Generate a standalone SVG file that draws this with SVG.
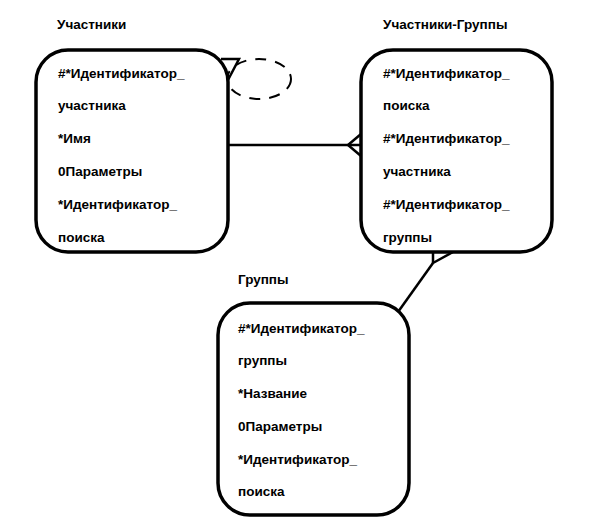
<svg xmlns="http://www.w3.org/2000/svg" width="589" height="529" viewBox="0 0 589 529">
<style>
text{font-family:"Liberation Sans",Arial,sans-serif;font-size:13.5px;font-weight:bold;fill:#000}
.box{fill:#fff;stroke:#000;stroke-width:3.5}
.ln{fill:none;stroke:#000;stroke-width:2.5}
.dash{fill:none;stroke:#000;stroke-width:2;stroke-dasharray:11 9}
</style>
<rect width="589" height="529" fill="#fff"/>
<g id="connectors">
<line class="ln" x1="228" y1="145" x2="361" y2="145"/>
<polyline class="ln" points="361,134 348,145 361,156"/>
<ellipse class="dash" cx="259" cy="79" rx="32" ry="20"/>
<polyline class="ln" points="221,59 239,59 228,80"/>
<line class="ln" x1="398" y1="312" x2="433" y2="263"/>
<polyline class="ln" points="433,252 433,263 453,252"/>
</g>
<g id="uchastniki">
<text x="57" y="29">Участники</text>
<rect class="box" x="36" y="50" width="192" height="202" rx="32"/>
<text x="58" y="78">#*Идентификатор_</text>
<text x="58" y="110">участника</text>
<text x="58" y="143">*Имя</text>
<text x="58" y="176">0Параметры</text>
<text x="58" y="209">*Идентификатор_</text>
<text x="58" y="242">поиска</text>
</g>
<g id="uchastniki-gruppy">
<text x="383" y="29">Участники-Группы</text>
<rect class="box" x="361" y="50" width="191" height="202" rx="32"/>
<text x="383" y="78">#*Идентификатор_</text>
<text x="383" y="110">поиска</text>
<text x="383" y="143">#*Идентификатор_</text>
<text x="383" y="176">участника</text>
<text x="383" y="209">#*Идентификатор_</text>
<text x="383" y="242">группы</text>
</g>
<g id="gruppy">
<text x="238" y="284">Группы</text>
<rect class="box" x="218" y="303" width="191" height="212" rx="32"/>
<text x="238" y="333">#*Идентификатор_</text>
<text x="238" y="365">группы</text>
<text x="238" y="398">*Название</text>
<text x="238" y="431">0Параметры</text>
<text x="238" y="464">*Идентификатор_</text>
<text x="238" y="496">поиска</text>
</g>
</svg>
